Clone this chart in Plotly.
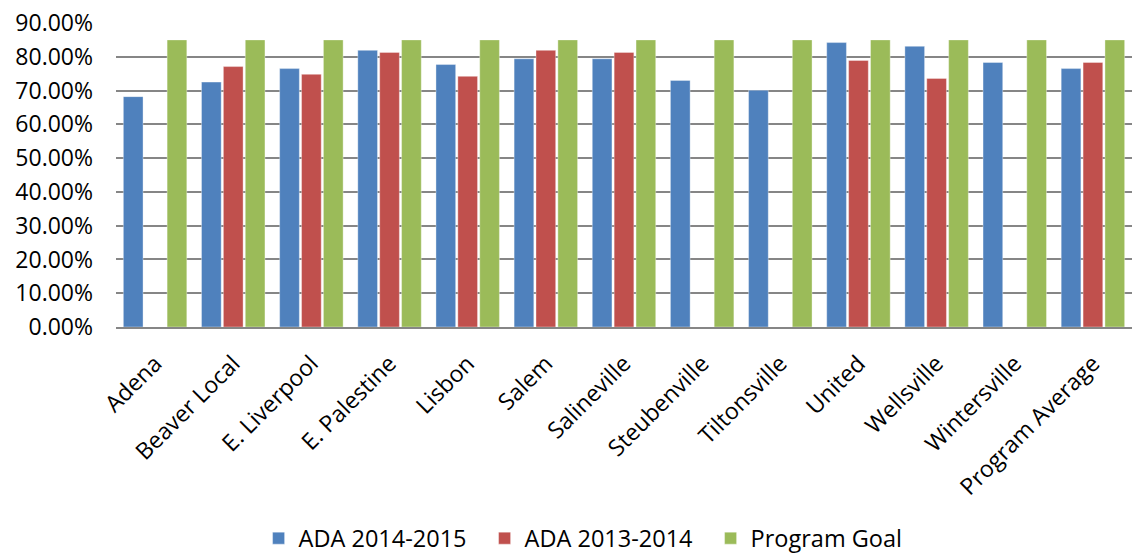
import plotly.graph_objects as go

schools = ["Adena", "Beaver Local", "E. Liverpool", "E. Palestine", "Lisbon", "Salem",
           "Salineville", "Steubenville", "Tiltonsville", "United", "Wellsville",
           "Wintersville", "Program Average"]
ada_2014_2015 = [68.2, 72.5, 76.5, 81.9, 77.7, 79.4, 79.4, 73.0, 70.1, 84.2, 83.1, 78.3, 76.5]
ada_2013_2014 = [None, 77.1, 74.8, 81.3, 74.2, 81.9, 81.3, None, None, 78.9, 73.6, None, 78.3]
program_goal = [85.0] * 13

series = [
    ("ADA 2014-2015", ada_2014_2015, "#4F81BD"),
    ("ADA 2013-2014", ada_2013_2014, "#C0504D"),
    ("Program Goal", program_goal, "#9BBB59"),
]

FONT = "Open Sans"

fig = go.Figure()
for name, vals, color in series:
    fig.add_trace(go.Bar(
        x=schools, y=[v / 100 if v is not None else None for v in vals],
        name=name, marker=dict(color=color, line=dict(width=0.6, color="rgba(255,255,255,0.6)")),
    ))

fig.update_layout(
    width=1136, height=555,
    margin=dict(l=116, r=4, t=23, b=228),
    barmode="group", bargap=0.16, bargroupgap=0.1,
    plot_bgcolor="white", paper_bgcolor="white",
    font=dict(family=FONT, size=23, color="#000000"),
    showlegend=True,
    legend=dict(orientation="h", x=0.474, xanchor="center",
                yref="container", y=0.03, yanchor="middle",
                font=dict(size=23.5), traceorder="normal",
                entrywidth=181, entrywidthmode="pixels"),
    xaxis=dict(tickangle=-45, showline=True, linecolor="#868686", linewidth=2,
               ticks="", tickfont=dict(size=23), automargin=False,
               ticklabelstandoff=12),
    yaxis=dict(range=[0, 0.9], dtick=0.1, tickformat=".2%", showgrid=True,
               gridcolor="#868686", gridwidth=2, zeroline=False, showline=False,
               ticks="", tickfont=dict(size=23), automargin=False,
               ticklabelstandoff=22),
)

fig.write_html("out.html")
